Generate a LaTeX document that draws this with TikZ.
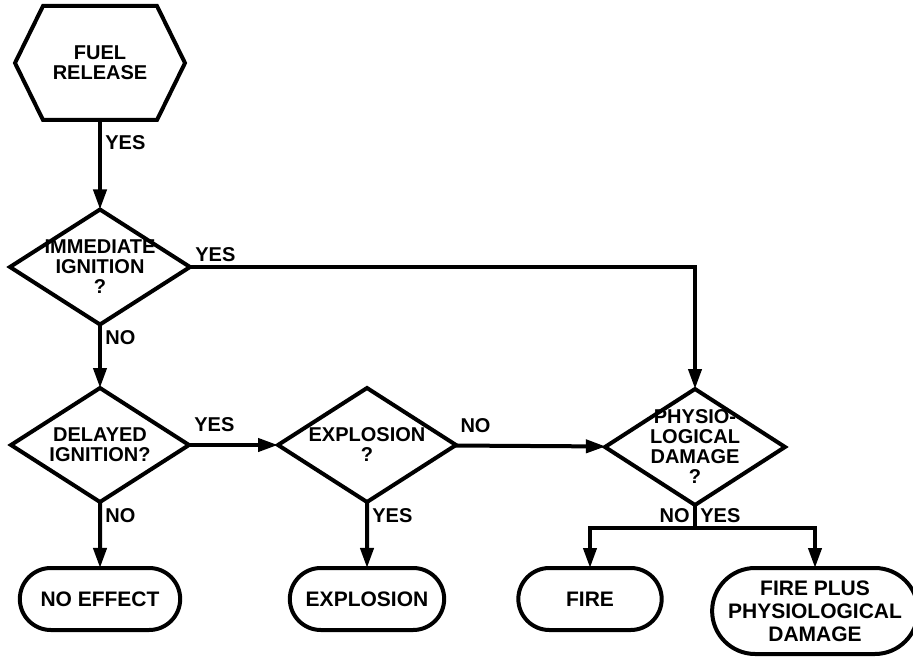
\documentclass[tikz,border=0pt]{standalone}
\usepackage{fontspec}
\setmainfont{Liberation Sans}
\usetikzlibrary{arrows.meta,shapes.geometric,shapes.misc}

\begin{document}
\begin{tikzpicture}[x=1pt,y=-1pt,line width=4pt,>={Triangle[length=20pt,width=13pt]},
    every node/.style={font=\bfseries\fontsize{20}{20}\selectfont,align=center},
    start node/.style={minimum width=170pt,minimum height=114pt,inner sep=0pt,outer sep=0pt},
    test node/.style={diamond,draw,inner sep=-40pt,outer sep=0pt,minimum width=178pt,minimum height=114pt},
    end node/.style={rounded rectangle,draw,outer sep=0pt,minimum height=62pt,font=\bfseries\fontsize{21}{23}\selectfont}]
                \useasboundingbox (0,0) rectangle (913,658);

                \node[start node] at (100, 63) (fuel) {FUEL\\RELEASE};
                \draw ([xshift=28pt]fuel.north west) -- ([xshift=-28pt]fuel.north east) -- (fuel.east)
                    -- ([xshift=-28pt]fuel.south east) -- ([xshift=28pt]fuel.south west) -- (fuel.west) -- cycle;

                \node[test node,minimum width=180pt,minimum height=115pt] at (100, 267) (imm) {IMMEDIATE\\IGNITION\\?};
                \node[test node] at (100, 445) (del) {DELAYED\\IGNITION?};
                \node[test node] at (367, 445) (expl) {EXPLOSION\\?};
                \node[test node,minimum width=180pt,minimum height=116pt] at (695, 447) (phys) {PHYSIO-\\LOGICAL\\DAMAGE\\?};

                \node[end node,minimum width=167pt] at (100, 599) (noeff) {NO EFFECT};
                \node[end node,minimum width=161pt] at (367, 599) (explt) {EXPLOSION};
                \node[end node,minimum width=150pt] at (590, 599) (fire) {FIRE};
                \node[end node,minimum width=195pt,minimum height=86pt] at (815, 611) (fireplus) {FIRE PLUS\\PHYSIOLOGICAL\\DAMAGE};
                \coordinate (split) at (695, 528);

                \path[->] (fuel) edge node [right,pos=0.25] {YES} (imm);
                \path[->] (imm) edge node [right,pos=0.2] {NO} (del);
                \path[->] (del) edge node [right,pos=0.2] {NO} (noeff);
                \path[->] (expl) edge node [right,pos=0.2] {YES} (explt);
                \path[->] (del) edge node [above right,pos=0,yshift=8pt] {YES} (expl);
                \path[->] (expl) edge node [above right,pos=0,yshift=8pt] {NO} (phys);

                \draw[->] (imm.east) -| node [above right,pos=0] {YES} (phys.north);
                \draw (phys.south) -- (split) node [above left] {NO} node [above right] {YES};
                \draw[->] (split) -| (fire.north);
                \draw[->] (split) -| (fireplus.north);
            \end{tikzpicture}
\end{document}
